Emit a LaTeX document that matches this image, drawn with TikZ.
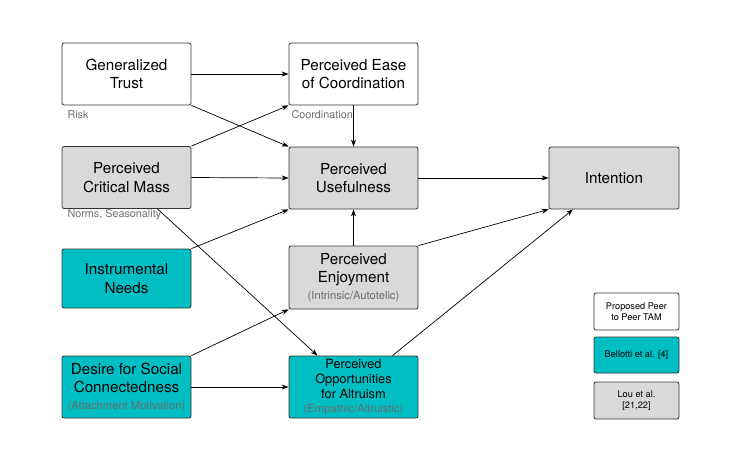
\documentclass[tikz,border=0pt]{standalone}
\usepackage{fontspec}
\setmainfont{TeX Gyre Heros}
\usetikzlibrary{arrows.meta}
\definecolor{teal1}{HTML}{00BFC4}
\definecolor{grayfill}{HTML}{D9D9D9}
\definecolor{subtext}{HTML}{6E6E6E}
\definecolor{boxsub}{HTML}{6A6A6A}
\definecolor{edge}{HTML}{333333}
\newcommand{\subtxt}[1]{{\color{boxsub}\fontsize{11.2}{13}\selectfont #1}}
\tikzset{
  box/.style={draw=edge, line width=0.8pt, rounded corners=2pt, minimum width=129pt, minimum height=62pt, align=center, inner sep=0pt, font=\fontsize{15.2}{18.5}\selectfont},
  wbox/.style={box, fill=white},
  gbox/.style={box, fill=grayfill},
  tbox/.style={box, fill=teal1},
  lbox/.style={draw=edge, line width=0.8pt, rounded corners=2pt, minimum width=85pt, minimum height=37pt, align=center, inner sep=0pt, font=\fontsize{9.2}{11.5}\selectfont},
  sub/.style={font=\fontsize{10.8}{12}\selectfont, text=subtext},
  arr/.style={-{Stealth[length=7pt,width=5pt]}, line width=0.7pt, draw=black},
}
\begin{document}
\begin{tikzpicture}[x=1pt,y=-1pt]
\useasboundingbox (0,0) rectangle (736,459);
\node[wbox] (gt) at (126.5,74) {Generalized\\Trust};
\node[wbox] (pe) at (353.5,74) {Perceived Ease\\of Coordination};
\node[gbox] (pcm) at (126.5,177.5) {Perceived\\Critical Mass};
\node[gbox] (pu) at (353.5,178) {Perceived\\Usefulness};
\node[tbox, minimum height=59pt] (in) at (126.5,278.5) {Instrumental\\Needs};
\node[gbox, minimum height=63pt] (pj) at (353.5,277.5) {Perceived\\Enjoyment\\[-2pt]\subtxt{(Intrinsic/Autotelic)}};
\node[tbox] (ds) at (126.5,387) {Desire for Social\\Connectedness\\[-2pt]\subtxt{(Attachment Motivation)}};
\node[tbox, font=\fontsize{12.8}{15}\selectfont] (pa) at (353.5,387) {Perceived\\Opportunities\\for Altruism\\[-1pt]\subtxt{(Empathic/Altruistic)}};
\node[gbox, minimum width=130pt] (it) at (614,178) {Intention};
\node[lbox, fill=white] (l1) at (636.5,311.5) {Proposed Peer\\to Peer TAM};
\node[lbox, fill=teal1, minimum height=36pt] (l2) at (636.5,355) {Bellotti et al. [4]};
\node[lbox, fill=grayfill] (l3) at (636.5,400.5) {Lou et al.\\{}[21,22]};
\node[sub, anchor=west] (risk) at (64,114.5) {Risk};
\node[sub, anchor=west] (coord) at (288,114.5) {Coordination};
\node[sub, anchor=west] (norms) at (64,214.5) {Norms, Seasonality};
% arrows
\draw[arr] (gt.east) -- (pe.west);
\draw[arr] (gt.south east) -- (pu.north west);
\draw[arr] (pcm.north east) -- (pe.south west);
\draw[arr] (pcm.east) -- (pu.west);
\draw[arr] ([xshift=31pt]pcm.south) -- ([xshift=-36pt]pa.north);
\draw[arr] (in.north east) -- (pu.south west);
\draw[arr] (pe.south) -- (pu.north);
\draw[arr] (pj.north) -- (pu.south);
\draw[arr] (pu.east) -- (it.west);
\draw[arr] (pj.north east) -- (it.south west);
\draw[arr] ([xshift=39pt]pa.north) -- ([xshift=-41pt]it.south);
\draw[arr] (ds.north east) -- (pj.south west);
\draw[arr] (ds.east) -- (pa.west);
\end{tikzpicture}
\end{document}
